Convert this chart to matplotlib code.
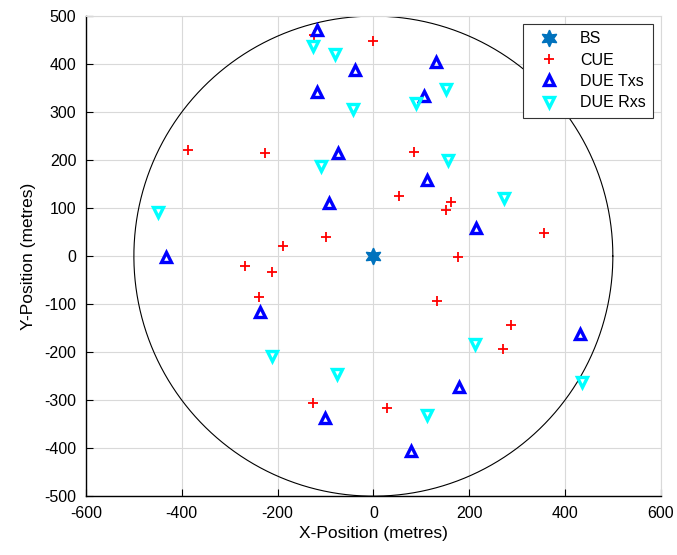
import numpy as np
import matplotlib.pyplot as plt

plt.rcParams['font.family'] = ['Liberation Sans', 'DejaVu Sans']
plt.rcParams['axes.unicode_minus'] = False

CELL_RADIUS = 500

bs_x = [0]
bs_y = [0]

cue_x = [-123, 0, -387, -227, -98, -189, 85, 54, 163, 151, 356, 177,
         -267, -212, -238, -127, 132, 288, 271, 28]
cue_y = [460, 448, 222, 214, 39, 21, 217, 126, 112, 97, 49, -1,
         -20, -33, -86, -306, -93, -144, -193, -316]

tx_x = [-118, -38, -117, -73, -92, -433, 131, 106, 113, 215,
        -237, -102, 432, 179, 79]
tx_y = [470, 387, 342, 214, 111, -1, 405, 334, 158, 58,
        -117, -337, -163, -272, -406]

rx_x = [-125, -80, -42, -109, -449, 151, 89, 155, 272,
        -211, -75, 213, 436, 113]
rx_y = [437, 422, 306, 187, 92, 349, 319, 201, 122,
        -208, -246, -184, -262, -331]

fig = plt.figure(figsize=(6.77, 5.55), dpi=100)
ax = fig.add_axes([0.127, 0.106, 0.849, 0.865])

# cell boundary
theta = np.linspace(0, 2 * np.pi, 400)
ax.plot(CELL_RADIUS * np.cos(theta), CELL_RADIUS * np.sin(theta),
        color='black', lw=0.8, zorder=2)

ax.plot(bs_x, bs_y, ls='none', marker=(6, 1, 0), ms=12, color='#0072BD',
        label='BS', zorder=3)
ax.plot(cue_x, cue_y, ls='none', marker='+', ms=7.5, mew=1.3, color='red',
        label='CUE', zorder=3)
ax.plot(tx_x, tx_y, ls='none', marker='^', ms=6.5, mew=2.4, mfc='none',
        color='blue', label='DUE Txs', zorder=3)
ax.plot(rx_x, rx_y, ls='none', marker='v', ms=6.5, mew=2.4, mfc='none',
        color='cyan', label='DUE Rxs', zorder=3)

ax.set_xlim(-600, 600)
ax.set_ylim(-500, 500)
ax.set_xticks(np.arange(-600, 601, 200))
ax.set_yticks(np.arange(-500, 501, 100))
ax.grid(True, color='#d9d9d9', lw=0.8)
ax.set_axisbelow(True)
for s in ['top', 'right']:
    ax.spines[s].set_color('#d9d9d9')
for s in ['left', 'bottom']:
    ax.spines[s].set_linewidth(1.0)
ax.tick_params(direction='in', length=5, labelsize=11.5, pad=7,
               top=False, right=False)

ax.set_xlabel('X-Position (metres)', fontsize=12.5, labelpad=4)
ax.set_ylabel('Y-Position (metres)', fontsize=12.5, labelpad=6)

leg = ax.legend(loc='upper right', fontsize=11.5, fancybox=False, framealpha=1,
                edgecolor='#333333', borderaxespad=0.5, handlelength=2.4,
                labelspacing=0.4, borderpad=0.45, handletextpad=0.7)
leg.get_frame().set_linewidth(0.8)

fig.savefig('out.png', dpi=100)
